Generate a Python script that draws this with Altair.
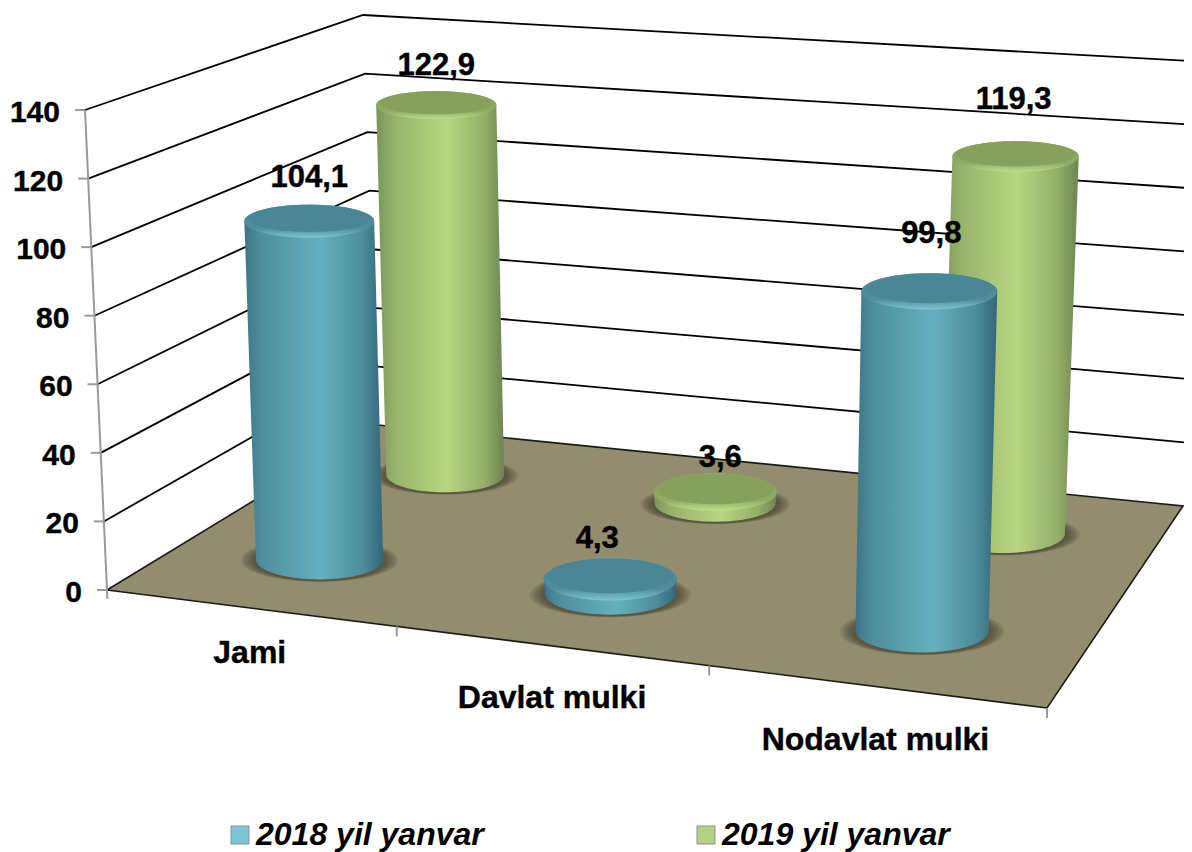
import numpy as np
import pandas as pd
import altair as alt

# ---- chart values -------------------------------------------------------
CATEGORIES = ["Jami", "Davlat mulki", "Nodavlat mulki"]
SERIES = ["2018 yil yanvar", "2019 yil yanvar"]
VALUES_2018 = [104.1, 4.3, 99.8]
VALUES_2019 = [122.9, 3.6, 119.3]
TICKS = [0, 20, 40, 60, 80, 100, 120, 140]
ZMAX = 140

# ---- styling / perspective box (screen corners of the 3-D plot box) -----
FLOOR = [(107, 590), (1047, 708), (378, 425), (1183, 506)]   # u,v = 00,10,01,11
ROOF = [(85, 110), (1061, 196), (363, 15), (1207, 62)]
CAT_U = [0.165, 0.50, 0.834]
SER_V = [0.25, 0.75]
CYL_H = 0.972
RX = 0.136
FONT = "Liberation Sans"


def homography(c):
    src = [(0, 0), (1, 0), (0, 1), (1, 1)]
    A, b = [], []
    for (u, v), (x, y) in zip(src, c):
        A.append([u, v, 1, 0, 0, 0, -u * x, -v * x]); b.append(x)
        A.append([0, 0, 0, u, v, 1, -u * y, -v * y]); b.append(y)
    h = np.linalg.solve(np.array(A, float), np.array(b, float))
    return np.append(h, 1).reshape(3, 3)


HF = homography(FLOOR)
RISE = [np.array(r, float) - np.array(f, float) for r, f in zip(ROOF, FLOOR)]


def P(u, v, z=0):
    w = HF @ np.array([u, v, 1.0])
    a = w[:2] / w[2]
    r = (1 - u) * (1 - v) * RISE[0] + u * (1 - v) * RISE[1] + (1 - u) * v * RISE[2] + u * v * RISE[3]
    return a + r * (z / ZMAX)


def ratio(y):
    return 0.215 + 0.00018 * y


xs = alt.Scale(domain=[8, 1184], range=[0, 1176], nice=False, zero=False)
ys = alt.Scale(domain=[8, 852], range=[0, 844], nice=False, zero=False)
X = alt.X("x:Q", scale=xs, axis=None)
Y = alt.Y("y:Q", scale=ys, axis=None)
Y2 = alt.Y2("y2:Q")


def to_area(pts, gid=0):
    pts = np.array(pts, float)
    rows = []
    q = np.roll(pts, -1, axis=0)
    for x in np.unique(np.round(pts[:, 0], 3)):
        hit = []
        for a, b in zip(pts, q):
            lo, hi = min(a[0], b[0]), max(a[0], b[0])
            if lo - 1e-3 <= x <= hi + 1e-3:
                if abs(b[0] - a[0]) < 1e-6:
                    hit += [a[1], b[1]]
                else:
                    hit.append(a[1] + (b[1] - a[1]) * (x - a[0]) / (b[0] - a[0]))
        if hit:
            rows.append({"x": x, "y": min(hit), "y2": max(hit), "id": gid})
    return rows


def ellipse(c, rx, ry, n=72):
    t = np.linspace(0, 2 * np.pi, n, endpoint=False)
    return np.c_[c[0] + rx * np.cos(t), c[1] + ry * np.sin(t)]


def body(ct, cb, rxt, ryt, rxb, ryb, n=48):
    t = np.linspace(np.pi, 2 * np.pi, n)
    up = np.c_[ct[0] + rxt * np.cos(t), ct[1] + ryt * np.sin(t)]
    t2 = np.linspace(0, np.pi, n)
    lo = np.c_[cb[0] + rxb * np.cos(t2), cb[1] + ryb * np.sin(t2)]
    return np.r_[up, lo]


def area(rows, **kw):
    return alt.Chart(pd.DataFrame(rows)).mark_area(**kw).encode(X, Y, Y2, detail="id:N")


def grad(stops, horizontal=True):
    return alt.Gradient(
        gradient="linear",
        stops=[alt.GradientStop(offset=o, color=c) for o, c in stops],
        x1=0, x2=1 if horizontal else 0, y1=0, y2=0 if horizontal else 1,
    )


STYLE = {
    0: dict(
        side=[(0, "#3b7586"), (0.12, "#4f8e9d"), (0.55, "#63b1bd"), (0.85, "#4d8c9b"), (1, "#33667a")],
        rim=[(0, "#4a8695"), (0.72, "#4f8e9d"), (0.92, "#6fb6c2"), (1, "#82c5cf")],
        cap="#4a8695",
    ),
    1: dict(
        side=[(0, "#7b9459"), (0.15, "#98b46c"), (0.55, "#b8d581"), (0.85, "#94ae69"), (1, "#6c8450")],
        rim=[(0, "#87a05d"), (0.72, "#8fab65"), (0.92, "#b3cf7e"), (1, "#c3dc8c")],
        cap="#87a05d",
    ),
}

# ---- walls --------------------------------------------------------------
grid, k = [], 0
for z in TICKS[1:]:
    for o, (u, v) in enumerate([(0, 0), (0, 1), (1.0, 1)]):
        p = P(u, v, z)
        grid.append({"x": p[0], "y": p[1], "id": k, "o": o})
    k += 1
layers = [
    alt.Chart(pd.DataFrame(grid)).mark_line(color="#000000", strokeWidth=1.8).encode(X, Y, detail="id:N", order="o:Q")
]

# ---- floor --------------------------------------------------------------
floor_pts = [P(0, 0), P(1, 0), P(1, 1), P(0, 1)]
layers.append(area(to_area(floor_pts), color="#938d70"))
edge = [{"x": p[0], "y": p[1], "o": i} for i, p in enumerate(floor_pts + [floor_pts[0]])]
layers.append(alt.Chart(pd.DataFrame(edge)).mark_line(color="#1a1a14", strokeWidth=1.6).encode(X, Y, order="o:Q"))

# ---- axis line and ticks ------------------------------------------------
ax, k = [], 0
a, b = P(0, 0, ZMAX), P(0, 0, 0)
ax += [{"x": a[0], "y": a[1], "id": k, "o": 0}, {"x": b[0], "y": b[1], "id": k, "o": 1}, {"x": b[0] + 0.4, "y": b[1] + 9, "id": k, "o": 2}]
for z in TICKS:
    k += 1
    p = P(0, 0, z)
    ax += [{"x": p[0] - 10, "y": p[1], "id": k, "o": 0}, {"x": p[0], "y": p[1], "id": k, "o": 1}]
for u in (1 / 3, 2 / 3, 1):
    k += 1
    p = P(u, 0)
    ax += [{"x": p[0], "y": p[1], "id": k, "o": 0}, {"x": p[0], "y": p[1] + 10, "id": k, "o": 1}]
layers.append(alt.Chart(pd.DataFrame(ax)).mark_line(color="#9a9a9a", strokeWidth=2).encode(X, Y, detail="id:N", order="o:Q"))

# ---- cylinders: back row first ------------------------------------------
vals = {0: VALUES_2018, 1: VALUES_2019}
tops = {}
shadows, sid = [], 0
items = [(1, 0), (1, 2), (1, 1), (0, 0), (0, 1), (0, 2)]


def radius(u, v):
    return (P(u, v, 0)[1] - P(u, v, ZMAX)[1]) * RX


for s, c in items:
    u, v = CAT_U[c], SER_V[s]
    base = P(u, v, 0)
    rx = radius(u, v)
    ry = rx * ratio(base[1])
    for f in (1.24, 1.2, 1.16, 1.12, 1.08, 1.04):
        shadows += to_area(ellipse(base + np.array([0, 1]), rx * f, ry * (0.8 + 0.22 * f)), sid)
        sid += 1
layers.append(area(shadows, color="#3a3422", opacity=0.14))

for s, c in items:
    u, v = CAT_U[c], SER_V[s]
    val = vals[s][c]
    base = P(u, v, 0)
    top = base + (P(u, v, val) - base) * CYL_H
    rx = radius(u, v)
    rxt = rx * 1.02
    ryb = rx * ratio(base[1])
    ryt = rxt * ratio(top[1])
    st = STYLE[s]
    layers.append(area(to_area(body(top, base, rxt, ryt, rx, ryb)), color=grad(st["side"])))
    layers.append(area(to_area(ellipse(top, rxt, ryt)), color=grad(st["rim"], horizontal=False)))
    layers.append(area(to_area(ellipse(top - np.array([0, ryt * 0.15]), rxt * 0.94, ryt * 0.8)), color=st["cap"]))
    tops[(s, c)] = top

# ---- text ---------------------------------------------------------------
LABEL_NUDGE = {(0, 0): (0, -43), (1, 0): (0, -39), (0, 1): (-13, -40), (1, 1): (5, -34), (0, 2): (2, -57), (1, 2): (-2, -56)}
TXT = dict(font=FONT, fontWeight="bold", color="#000000", baseline="middle", stroke="#000000", strokeWidth=0.4)
lab = []
for (s, c), t in tops.items():
    d = LABEL_NUDGE[(s, c)]
    lab.append({"x": t[0] + d[0], "y": t[1] + d[1], "t": f"{vals[s][c]}".replace(".", ",")})
layers.append(alt.Chart(pd.DataFrame(lab)).mark_text(fontSize=31, align="center", **TXT).encode(X, Y, text="t:N"))
tl = []
for z in TICKS:
    p = P(0, 0, z)
    tl.append({"x": p[0] - 25, "y": p[1] + 3, "t": str(z)})
layers.append(alt.Chart(pd.DataFrame(tl)).mark_text(fontSize=30, align="right", **TXT).encode(X, Y, text="t:N"))
cl = []
CAT_D = [(2, 45), (2, 52), (0, 54)]
for c, name in enumerate(CATEGORIES):
    p = P(CAT_U[c], 0)
    cl.append({"x": p[0] + CAT_D[c][0], "y": p[1] + CAT_D[c][1], "t": name})
layers.append(alt.Chart(pd.DataFrame(cl)).mark_text(fontSize=32, align="center", **TXT).encode(X, Y, text="t:N"))

# ---- legend -------------------------------------------------------------
leg = pd.DataFrame({"x": [tops[(0, 0)][0]] * 2, "y": [tops[(0, 0)][1]] * 2, "series": SERIES})
layers.append(
    alt.Chart(leg)
    .mark_point(filled=True, size=0, opacity=1)
    .encode(
        X, Y,
        color=alt.Color(
            "series:N",
            scale=alt.Scale(domain=SERIES, range=["#7cc6d2", "#b4cf86"]),
            legend=alt.Legend(
                title=None, orient="none", legendX=216, legendY=811, columns=2, columnPadding=206,
                symbolType="square", symbolSize=324, symbolOpacity=1, symbolStrokeColor="#8f8f8f", symbolStrokeWidth=1,
                labelFont=FONT, labelFontSize=32, labelFontWeight="bold", labelFontStyle="italic",
                labelColor="#000000", labelLimit=400, labelOffset=0,
            ),
        ),
    )
)

chart = (
    alt.layer(*layers)
    .properties(
        width=1176, height=844, padding=0, background="#ffffff",
        autosize=alt.AutoSizeParams(type="none"),
    )
    .configure_view(stroke=None)
)
chart.save("out.html", embed_options={"renderer": "svg", "actions": False})
